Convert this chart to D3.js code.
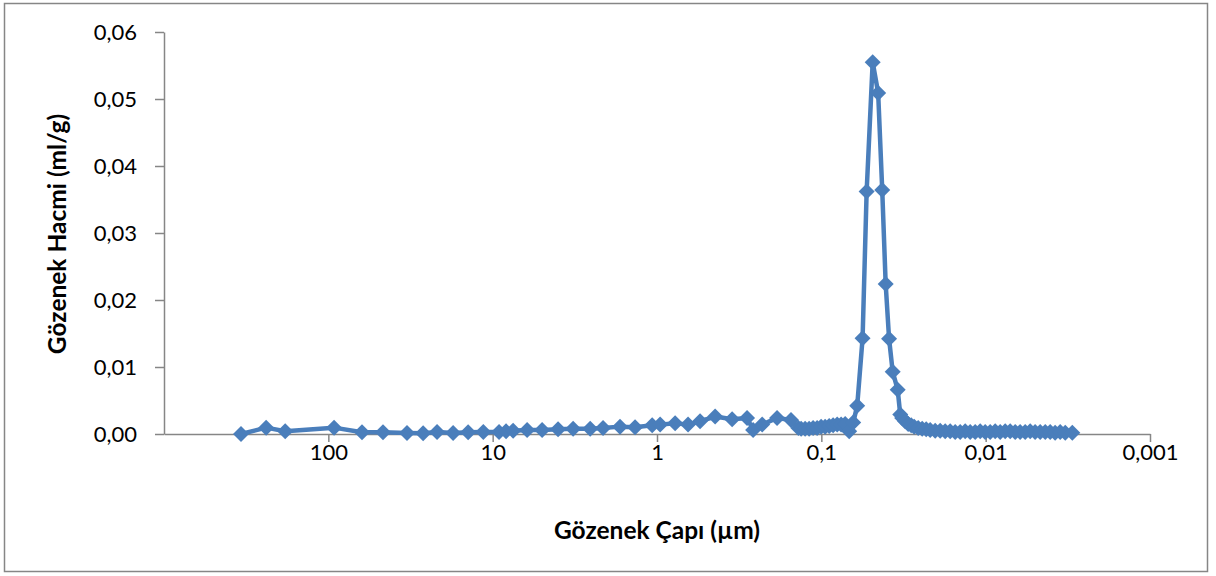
<!DOCTYPE html>
<html>
<head>
<meta charset="utf-8">
<script src="https://cdn.jsdelivr.net/npm/d3@7"></script>
<style>
  html, body { margin: 0; padding: 0; background: #fff; }
  svg { display: block; }
  text { font-family: Lato, "Noto Sans", sans-serif; fill: #000; }
</style>
</head>
<body>
<svg id="chart" width="1216" height="576"></svg>
<script>
// Pore diameter (µm) and incremental pore volume (ml/g)
const poreDiameter = [
  340, 239, 183, 92.3, 62.4, 46.5, 33.2, 26.5, 21.8, 17.4,
  14.1, 11.4, 9.14, 8.29, 7.51, 6.17, 5.00, 4.00, 3.24, 2.55,
  2.13, 1.68, 1.36, 1.07, 0.957, 0.776, 0.647, 0.547, 0.443, 0.349,
  0.283, 0.260, 0.229, 0.186, 0.153, 0.138, 0.1327, 0.1255, 0.1187, 0.1122,
  0.1061, 0.1003, 0.0948, 0.0896, 0.0848, 0.0801, 0.0758, 0.0716, 0.0677, 0.0640,
  0.0605, 0.0561, 0.0530, 0.0487, 0.0451, 0.0426, 0.0406, 0.0387, 0.0368, 0.0343,
  0.0331, 0.03222, 0.03090, 0.02962, 0.02840, 0.02723, 0.02574, 0.02434, 0.02301, 0.02176,
  0.02029, 0.01892, 0.01764, 0.01644, 0.01533, 0.01429, 0.01332, 0.01242, 0.01158, 0.01080,
  0.01007, 0.00939, 0.00875, 0.00816, 0.00761, 0.00709, 0.00661, 0.00617, 0.00575, 0.00536,
  0.00500, 0.00466, 0.00434, 0.00405, 0.00378, 0.00352, 0.00328, 0.00297
];
const poreVolume = [
  0.0000, 0.00095, 0.0004, 0.00095, 0.00025, 0.00025, 0.00015, 0.0001, 0.0003, 0.00015,
  0.00025, 0.0003, 0.0003, 0.0004, 0.0005, 0.0006, 0.0006, 0.0007, 0.0008, 0.0008,
  0.0009, 0.0011, 0.0010, 0.0013, 0.0014, 0.0016, 0.0014, 0.0019, 0.0026, 0.0022,
  0.0024, 0.0006, 0.0014, 0.0024, 0.0021, 0.0009, 0.0008, 0.0008, 0.0008, 0.0009,
  0.0009, 0.0011, 0.0011, 0.0012, 0.0013, 0.0014, 0.0014, 0.0015, 0.0004, 0.0017,
  0.0042, 0.0143, 0.0362, 0.0555, 0.0509, 0.0364, 0.0224, 0.0142, 0.0093, 0.0066,
  0.0029, 0.0024, 0.0019, 0.0015, 0.0013, 0.0011, 0.0009, 0.0008, 0.0007, 0.0006,
  0.0005, 0.0005, 0.0004, 0.0004, 0.0003, 0.0003, 0.0004, 0.0003, 0.0003, 0.0004,
  0.0003, 0.0003, 0.0004, 0.0003, 0.0004, 0.0004, 0.0003, 0.0003, 0.0003, 0.0004,
  0.0003, 0.0003, 0.0003, 0.0003, 0.0002, 0.0003, 0.0002, 0.0002
];

const xTickValues = [100, 10, 1, 0.1, 0.01, 0.001];
const xTickLabels = ["100", "10", "1", "0,1", "0,01", "0,001"];
const yTickValues = [0, 0.01, 0.02, 0.03, 0.04, 0.05, 0.06];
const yTickLabels = ["0,00", "0,01", "0,02", "0,03", "0,04", "0,05", "0,06"];

const xTitle = "Gözenek Çapı (µm)";
const yTitle = "Gözenek Hacmi (ml/g)";

const svg = d3.select("#chart");
const lineColor = "#4a7ebb";
const axisColor = "#868686";

// Chart frame
svg.append("rect")
  .attr("x", 4.5).attr("y", 3.5)
  .attr("width", 1203).attr("height", 568)
  .attr("fill", "#fff")
  .attr("stroke", axisColor)
  .attr("stroke-width", 1.5);

const plot = { left: 164, right: 1150, top: 32, bottom: 434 };

const x = d3.scaleLog().domain([1000, 0.001]).range([plot.left, plot.right]);
const y = d3.scaleLinear().domain([0, 0.06]).range([plot.bottom, plot.top]);

// Y axis
const yAxis = svg.append("g")
  .attr("transform", `translate(${plot.left},0)`)
  .call(d3.axisLeft(y)
    .tickValues(yTickValues)
    .tickFormat((d, i) => yTickLabels[i])
    .tickSize(9)
    .tickSizeOuter(0)
    .tickPadding(18));

// X axis
const xAxis = svg.append("g")
  .attr("transform", `translate(0,${plot.bottom})`)
  .call(d3.axisBottom(x)
    .tickValues(xTickValues)
    .tickFormat((d, i) => xTickLabels[i])
    .tickSize(8)
    .tickSizeOuter(0)
    .tickPadding(2));

[xAxis, yAxis].forEach(g => {
  g.select(".domain").attr("stroke", axisColor).attr("stroke-width", 1.5);
  g.selectAll(".tick line").attr("stroke", axisColor).attr("stroke-width", 1.5);
  g.selectAll(".tick text")
    .attr("fill", "#000")
    .style("font-family", "Lato, 'Noto Sans', sans-serif")
    .style("font-size", "22px");
});

// Axis titles
svg.append("text")
  .attr("x", 657)
  .attr("y", 539)
  .attr("text-anchor", "middle")
  .style("font-size", "24.5px")
  .style("font-weight", "bold")
  .text(xTitle);

svg.append("text")
  .attr("transform", `translate(66,234) rotate(-90)`)
  .attr("text-anchor", "middle")
  .style("font-size", "24.5px")
  .style("font-weight", "bold")
  .text(yTitle);

// Series
const points = poreDiameter.map((d, i) => ({ d, v: poreVolume[i] }));

svg.append("path")
  .datum(points)
  .attr("fill", "none")
  .attr("stroke", lineColor)
  .attr("stroke-width", 4.5)
  .attr("stroke-linejoin", "round")
  .attr("d", d3.line().x(p => x(p.d)).y(p => y(p.v)));

const diamond = "M0,-8L8,0L0,8L-8,0Z";
svg.append("g")
  .selectAll("path")
  .data(points)
  .join("path")
  .attr("d", diamond)
  .attr("transform", p => `translate(${x(p.d)},${y(p.v)})`)
  .attr("fill", lineColor);
</script>
</body>
</html>
